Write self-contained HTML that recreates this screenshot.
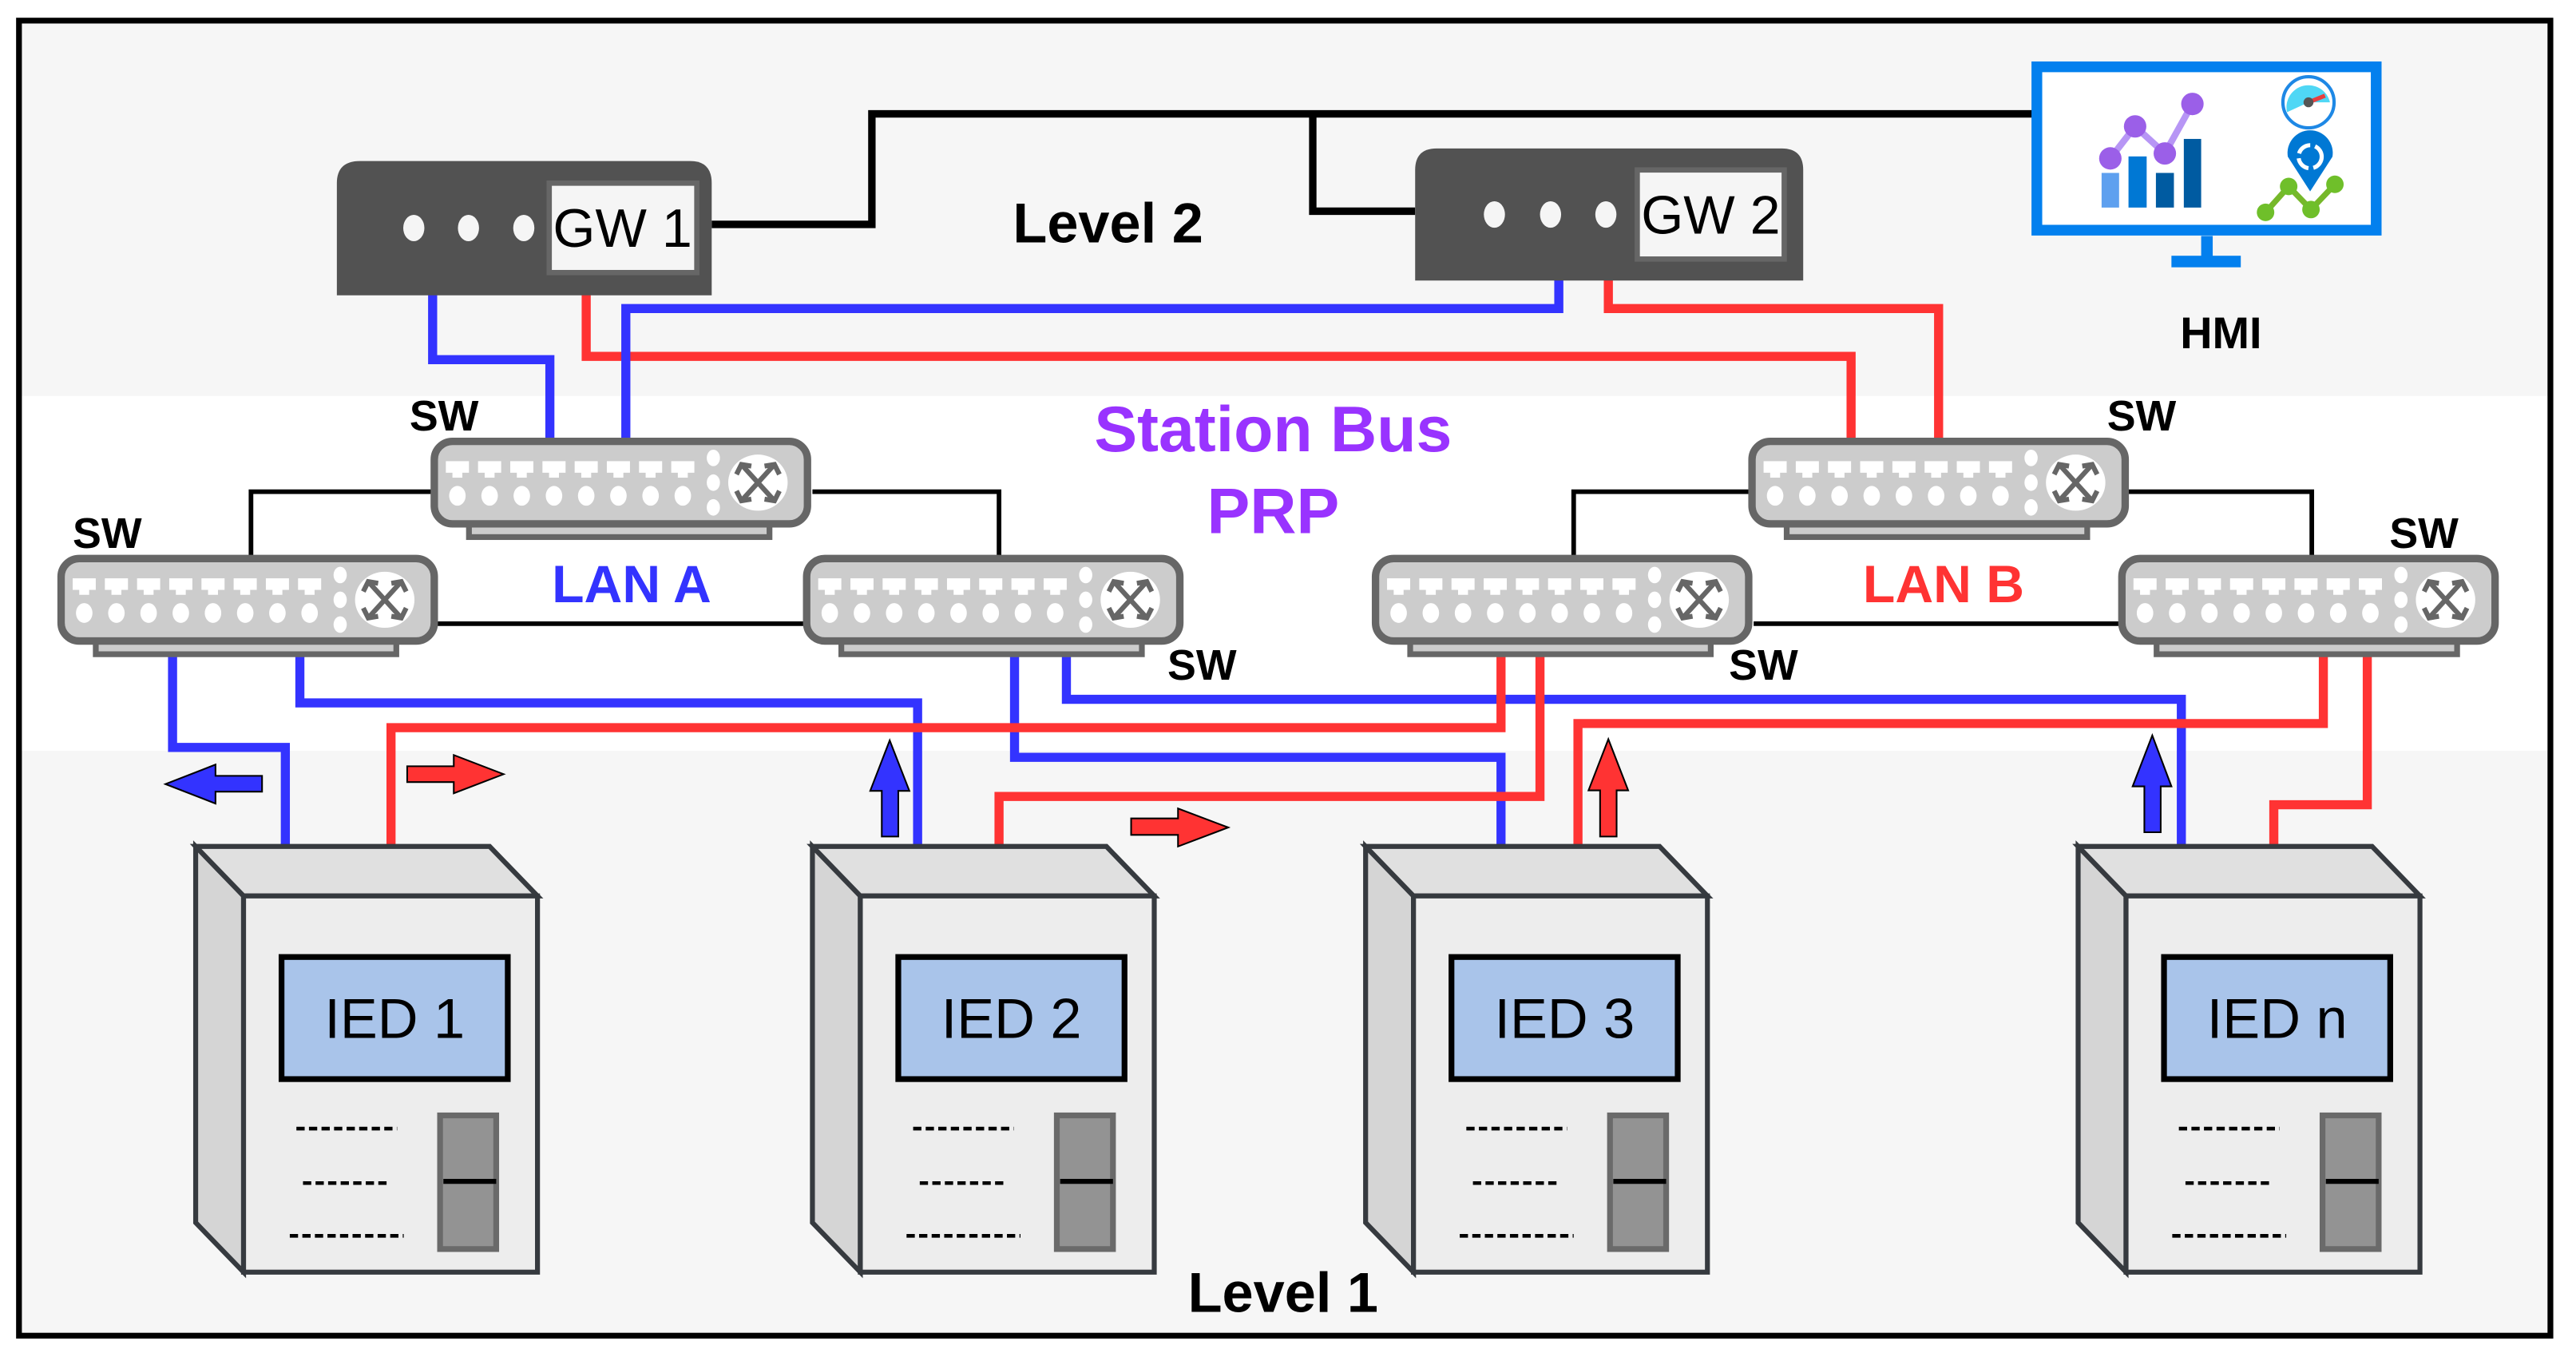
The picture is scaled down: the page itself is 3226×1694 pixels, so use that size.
<!DOCTYPE html>
<html><head><meta charset="utf-8"><style>
html,body{margin:0;padding:0;background:#fff;}
svg{display:block;}
text{font-family:"Liberation Sans",Arial,sans-serif;}
</style></head><body>
<svg width="3226" height="1694" viewBox="0 0 1560 820" preserveAspectRatio="none" xmlns="http://www.w3.org/2000/svg">
<defs>
<g id="sw">
 <rect x="23" y="50" width="182" height="10" fill="#cccccc" stroke="#666" stroke-width="3.5"/>
 <rect x="2" y="2" width="226" height="50" rx="11" fill="#cccccc" stroke="#666" stroke-width="4.5"/>
 <g fill="#fff">
  <rect x="9" y="14" width="14" height="7"/><rect x="13" y="20" width="6" height="4"/>
  <rect x="28.5" y="14" width="14" height="7"/><rect x="32.5" y="20" width="6" height="4"/>
  <rect x="48" y="14" width="14" height="7"/><rect x="52" y="20" width="6" height="4"/>
  <rect x="67.5" y="14" width="14" height="7"/><rect x="71.5" y="20" width="6" height="4"/>
  <rect x="87" y="14" width="14" height="7"/><rect x="91" y="20" width="6" height="4"/>
  <rect x="106.5" y="14" width="14" height="7"/><rect x="110.5" y="20" width="6" height="4"/>
  <rect x="126" y="14" width="14" height="7"/><rect x="130" y="20" width="6" height="4"/>
  <rect x="145.5" y="14" width="14" height="7"/><rect x="149.5" y="20" width="6" height="4"/>
  <ellipse cx="16" cy="35" rx="5" ry="6"/><ellipse cx="35.5" cy="35" rx="5" ry="6"/>
  <ellipse cx="55" cy="35" rx="5" ry="6"/><ellipse cx="74.5" cy="35" rx="5" ry="6"/>
  <ellipse cx="94" cy="35" rx="5" ry="6"/><ellipse cx="113.5" cy="35" rx="5" ry="6"/>
  <ellipse cx="133" cy="35" rx="5" ry="6"/><ellipse cx="152.5" cy="35" rx="5" ry="6"/>
  <ellipse cx="171" cy="12" rx="4" ry="5"/><ellipse cx="171" cy="27" rx="4" ry="5"/><ellipse cx="171" cy="42" rx="4" ry="5"/>
  <ellipse cx="198" cy="27" rx="18" ry="17"/>
 </g>
 <g stroke="#666" stroke-width="3" fill="none">
  <line x1="188" y1="16" x2="208" y2="38"/><line x1="208" y1="16" x2="188" y2="38"/>
  <polyline points="185,22 188,16 194,17"/><polyline points="211,22 208,16 202,17"/>
  <polyline points="185,32 188,38 194,37"/><polyline points="211,32 208,38 202,37"/>
 </g>
</g>
<g id="ied">
 <polygon points="0,0 29,30 29,258 0,228" fill="#d5d5d5" stroke="#363a3f" stroke-width="3"/>
 <polygon points="0,0 178,0 207,30 29,30" fill="#e0e0e0" stroke="#363a3f" stroke-width="3"/>
 <rect x="29" y="30" width="178" height="228" fill="#ededed" stroke="#363a3f" stroke-width="3"/>
 <rect x="52" y="67" width="137" height="74" fill="#a9c4ea" stroke="#000" stroke-width="3.5"/>
 <g stroke="#000" stroke-width="2.2" stroke-dasharray="5,2.6">
  <line x1="61" y1="171" x2="122" y2="171"/>
  <line x1="65" y1="204" x2="117" y2="204"/>
  <line x1="57" y1="236" x2="126" y2="236"/>
 </g>
 <rect x="148" y="163" width="34" height="81" fill="#939393" stroke="#6a6a6a" stroke-width="3.5"/>
 <line x1="150" y1="203" x2="182" y2="203" stroke="#000" stroke-width="3"/>
</g>
</defs>

<!-- background bands -->
<rect x="0" y="0" width="1560" height="820" fill="#fff"/>
<rect x="11" y="12" width="1534" height="228" fill="#f6f6f6"/>
<rect x="11" y="240" width="1534" height="215" fill="#ffffff"/>
<rect x="11" y="455" width="1534" height="355" fill="#f6f6f6"/>

<!-- black lines -->
<polyline points="431,136 528,136 528,69 1240,69" fill="none" stroke="#000" stroke-width="4.5"/>
<polyline points="795,69 795,128 857,128" fill="none" stroke="#000" stroke-width="4.5"/>
<g fill="none" stroke="#000" stroke-width="2.8">
 <polyline points="263,298 152,298 152,338"/>
 <polyline points="492,298 605,298 605,338"/>
 <line x1="265" y1="378" x2="489" y2="378"/>
 <polyline points="1061,298 953,298 953,338"/>
 <polyline points="1289,298 1400,298 1400,338"/>
 <line x1="1062" y1="378" x2="1285" y2="378"/>
</g>

<!-- colored wires -->
<g fill="none" stroke-width="5.5" stroke-linejoin="miter">
 <polyline stroke="#3333ff" points="262,178 262,218 333,218 333,268"/>
 <polyline stroke="#ff3333" points="355,178 355,216 1121,216 1121,267"/>
 <polyline stroke="#3333ff" points="944,168 944,187 379,187 379,267"/>
 <polyline stroke="#ff3333" points="974,168 974,187 1174,187 1174,267"/>

 <polyline stroke="#3333ff" points="104.5,398 104.5,453 172.8,453 172.8,514"/>
 <polyline stroke="#3333ff" points="181.6,398 181.6,426 555.7,426 555.7,514"/>
 <polyline stroke="#3333ff" points="614.4,398 614.4,459 909,459 909,514"/>
 <polyline stroke="#3333ff" points="645.8,398 645.8,423.8 1321,423.8 1321,514"/>

 <polyline stroke="#ff3333" points="909,398 909,441 236.8,441 236.8,514"/>
 <polyline stroke="#ff3333" points="932.6,398 932.6,482.7 605,482.7 605,514"/>
 <polyline stroke="#ff3333" points="1407,398 1407,438.5 955.6,438.5 955.6,514"/>
 <polyline stroke="#ff3333" points="1433.6,398 1433.6,487.7 1377,487.7 1377,514"/>
</g>

<!-- GW1 -->
<path d="M204,179 V111 Q204,97.6 218,97.6 H418 Q431,97.6 431,111 V179 Z" fill="#525252"/>
<rect x="332.6" y="111" width="89.4" height="54.2" fill="#f5f5f5" stroke="#666" stroke-width="3.2"/>
<g fill="#f5f5f5"><ellipse cx="250.6" cy="138.2" rx="6.4" ry="8"/><ellipse cx="283.7" cy="138.2" rx="6.4" ry="8"/><ellipse cx="317.2" cy="138.2" rx="6.4" ry="8"/></g>
<text x="377" y="149.5" font-size="33" text-anchor="middle" fill="#000">GW 1</text>

<!-- GW2 -->
<path d="M857,170 V103 Q857,90 870,90 H1079 Q1092,90 1092,103 V170 Z" fill="#525252"/>
<rect x="991.5" y="103" width="89" height="54" fill="#f5f5f5" stroke="#666" stroke-width="3.2"/>
<g fill="#f5f5f5"><ellipse cx="905" cy="130" rx="6.4" ry="8"/><ellipse cx="939" cy="130" rx="6.4" ry="8"/><ellipse cx="972.5" cy="130" rx="6.4" ry="8"/></g>
<text x="1036" y="141.5" font-size="33" text-anchor="middle" fill="#000">GW 2</text>

<!-- HMI -->
<rect x="1233.5" y="40.5" width="205.5" height="99" fill="#fff" stroke="#0380ee" stroke-width="6.5"/>
<rect x="1333" y="143" width="7" height="13" fill="#0380ee"/>
<rect x="1315" y="155" width="42" height="7" fill="#0380ee"/>
<rect x="1272.7" y="104.8" width="10.6" height="21" fill="#5ea0ef"/>
<rect x="1289" y="94.8" width="11" height="31" fill="#0078d4"/>
<rect x="1305.6" y="104.8" width="10.9" height="21" fill="#005ba1"/>
<rect x="1322.5" y="84.2" width="10.5" height="41.6" fill="#005ba1"/>
<polyline points="1278,96 1293,76.6 1311,93 1327.7,63" fill="none" stroke="#b796f5" stroke-width="4"/>
<g fill="#9b5fe8"><circle cx="1278" cy="96" r="6.8"/><circle cx="1293" cy="76.6" r="6.8"/><circle cx="1311" cy="93" r="6.8"/><circle cx="1327.7" cy="63" r="6.8"/></g>
<circle cx="1398" cy="62" r="15.5" fill="#fff" stroke="#1e88e5" stroke-width="2"/>
<path d="M1385,68 A13,13 0 0 1 1411,62 L1398,62 Z" fill="#4fd7f5"/>
<line x1="1398" y1="62" x2="1408" y2="58" stroke="#e83e3e" stroke-width="2.5"/>
<circle cx="1398" cy="62" r="3" fill="#555"/>
<path d="M1385.5,95 A13.7,13.7 0 1 1 1412.5,95 L1399,116 Z" fill="#0078d4"/>
<circle cx="1399" cy="95" r="7" fill="none" stroke="#fff" stroke-width="2.5" stroke-dasharray="9,3"/>
<polyline points="1372,128.7 1386,113 1399.5,127 1414,111.7" fill="none" stroke="#76b82a" stroke-width="3.5"/>
<g fill="#6fbf2a"><circle cx="1372" cy="128.7" r="5.3"/><circle cx="1386" cy="113" r="5.3"/><circle cx="1399.5" cy="127" r="5.3"/><circle cx="1414" cy="111.7" r="5.3"/></g>
<text x="1345" y="211" font-size="27" font-weight="bold" text-anchor="middle">HMI</text>

<!-- labels -->
<text x="671" y="147" font-size="34" font-weight="bold" text-anchor="middle">Level 2</text>
<text x="771" y="273.5" font-size="39" font-weight="bold" text-anchor="middle" fill="#9933ff">Station Bus</text>
<text x="771" y="323" font-size="39" font-weight="bold" text-anchor="middle" fill="#9933ff">PRP</text>
<text x="382.5" y="365" font-size="32" font-weight="bold" text-anchor="middle" fill="#3333ff">LAN A</text>
<text x="1177" y="365" font-size="32" font-weight="bold" text-anchor="middle" fill="#ff3333">LAN B</text>
<g font-size="26" font-weight="bold">
 <text x="248" y="261">SW</text>
 <text x="44" y="332">SW</text>
 <text x="707" y="412">SW</text>
 <text x="1276" y="261">SW</text>
 <text x="1447" y="332">SW</text>
 <text x="1047" y="412">SW</text>
</g>

<!-- switches -->
<use href="#sw" x="261" y="265.5"/>
<use href="#sw" x="35" y="336.5"/>
<use href="#sw" x="486.5" y="336.5"/>
<use href="#sw" x="1059" y="265.5"/>
<use href="#sw" x="831" y="336.5"/>
<use href="#sw" x="1283" y="336.5"/>

<!-- arrows -->
<g stroke="#000" stroke-width="1">
 <polygon fill="#3333ff" points="100.2,475.2 130.5,463.4 130.5,470.2 158.7,470.2 158.7,479.8 130.5,479.8 130.5,487"/>
 <polygon fill="#ff3333" points="305,469.2 274.8,457.6 274.8,464.4 246.6,464.4 246.6,474 274.8,474 274.8,480.8"/>
 <polygon fill="#3333ff" points="538.8,448.7 550.7,479.3 544,479.3 544,507 534,507 534,479.3 527,479.3"/>
 <polygon fill="#ff3333" points="743.8,501.5 713.4,490 713.4,496 685,496 685,506 713.4,506 713.4,513"/>
 <polygon fill="#ff3333" points="974,448 986,479 979,479 979,507 969,507 969,479 962,479"/>
 <polygon fill="#3333ff" points="1303.4,445.7 1315,476.6 1308.5,476.6 1308.5,504.4 1298.6,504.4 1298.6,476.6 1291.5,476.6"/>
</g>

<!-- IEDs -->
<use href="#ied" x="118.5" y="513"/>
<use href="#ied" x="492" y="513"/>
<use href="#ied" x="827" y="513"/>
<use href="#ied" x="1258.5" y="513"/>
<g font-size="34" text-anchor="middle">
 <text x="239" y="629">IED 1</text>
 <text x="612.5" y="629">IED 2</text>
 <text x="947.5" y="629">IED 3</text>
 <text x="1379" y="629">IED n</text>
</g>
<text x="777" y="795" font-size="34" font-weight="bold" text-anchor="middle">Level 1</text>

<!-- outer border -->
<rect x="11.5" y="12.5" width="1533" height="797" fill="none" stroke="#000" stroke-width="3.5"/>
</svg>
</body></html>
